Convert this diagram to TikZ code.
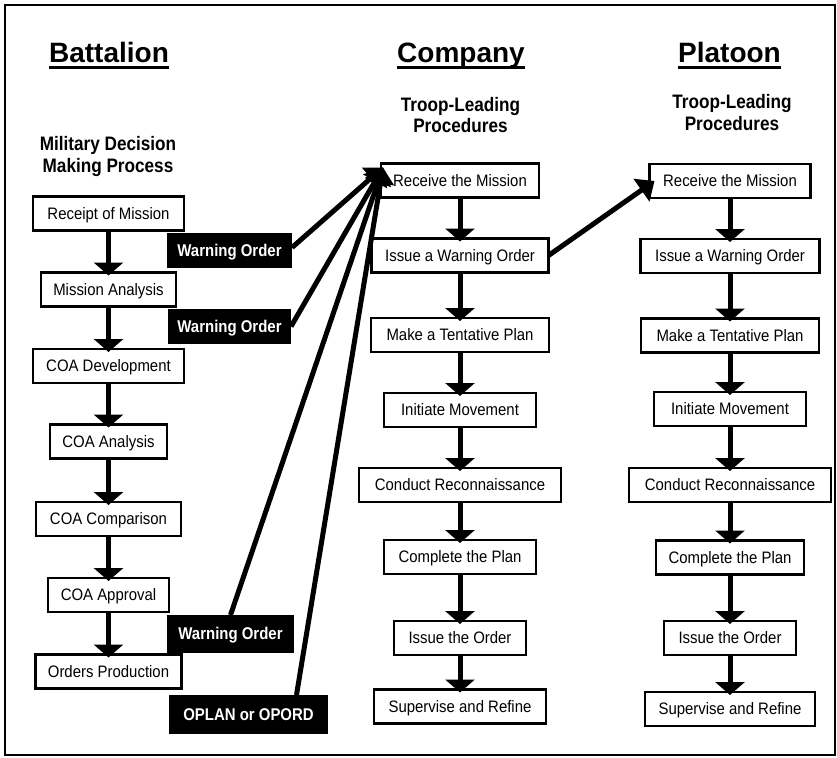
\documentclass[tikz,border=0pt]{standalone}
\usepackage{fontspec}
\setmainfont{Liberation Sans}
\newfontfamily\boxfont{Liberation Sans}[FakeStretch=0.9]
\newfontfamily\subfont{Liberation Sans}[FakeStretch=0.88]
\usetikzlibrary{arrows.meta,calc}
\begin{document}
\begin{tikzpicture}[x=1pt,y=-1pt,
  stepbox/.style={draw,line width=2.9pt,fill=white,inner sep=0pt,outer sep=0pt,
    minimum height=34pt,font=\boxfont\fontsize{16.6}{19}\selectfont,text height=13pt,text depth=1.5pt},
  ordbox/.style={fill=black,text=white,inner sep=0pt,outer sep=0pt,minimum height=35pt,
    font=\subfont\bfseries\fontsize{17}{19}\selectfont,text height=13pt,text depth=1.5pt},
  varrow/.style={line width=5pt,-{Triangle[length=13pt,width=29pt]},shorten >=-3pt},
  darrow/.style={line width=5pt,-{Triangle[length=16pt,width=27pt]}},
  head/.style={font=\bfseries\fontsize{28}{32}\selectfont,inner sep=0pt,anchor=base},
  sub/.style={font=\subfont\bfseries\fontsize{19.5}{22}\selectfont,inner sep=0pt,anchor=base},
  uline/.style={line width=2.2pt},
]
\useasboundingbox (0,0) rectangle (837,757);
\draw[line width=2.5pt] (5,5) rectangle (835,755);

% headings
\node[head] (hb) at (109,63) {Battalion};
\node[head] (hc) at (461,63) {Company};
\node[head] (hp) at (729.5,63) {Platoon};
\foreach \h in {hb,hc,hp}
  \draw[uline] ($(\h.base west)+(0,4.5)$) -- ($(\h.base east)+(0,4.5)$);

\node[sub] (sb1) at (108,150) {Military Decision};
\node[sub] (sb2) at (108,172) {Making Process};
\node[sub] (sc1) at (460.5,111) {Troop-Leading};
\node[sub] (sc2) at (460.5,132) {Procedures};
\node[sub] (sp1) at (732,109) {Troop-Leading};
\node[sub] (sp2) at (732,130) {Procedures};

% battalion
\node[stepbox,minimum width=151pt] (b1) at (108.5,213.5) {Receipt of Mission};
\node[stepbox,minimum width=135pt] (b2) at (108.5,289.5) {Mission Analysis};
\node[stepbox,minimum width=151pt] (b3) at (108.5,366) {COA Development};
\node[stepbox,minimum width=117pt] (b4) at (108.5,441.5) {COA Analysis};
\node[stepbox,minimum width=145pt] (b5) at (108.5,519) {COA Comparison};
\node[stepbox,minimum width=121pt] (b6) at (108.5,595) {COA Approval};
\node[stepbox,minimum width=146pt] (b7) at (108.5,671.5) {Orders Production};

% company
\node[stepbox,minimum width=158pt] (c1) at (460,180.5) {Receive the Mission};
\node[stepbox,minimum width=177pt] (c2) at (460,255.5) {Issue a Warning Order};
\node[stepbox,minimum width=178pt] (c3) at (460,335) {Make a Tentative Plan};
\node[stepbox,minimum width=152pt] (c4) at (460,410) {Initiate Movement};
\node[stepbox,minimum width=202pt] (c5) at (460,485) {Conduct Reconnaissance};
\node[stepbox,minimum width=152pt] (c6) at (460,557) {Complete the Plan};
\node[stepbox,minimum width=132pt] (c7) at (460,638) {Issue the Order};
\node[stepbox,minimum width=172pt] (c8) at (460,706.5) {Supervise and Refine};

% platoon
\node[stepbox,minimum width=161pt] (p1) at (730,181) {Receive the Mission};
\node[stepbox,minimum width=179pt] (p2) at (730,256) {Issue a Warning Order};
\node[stepbox,minimum width=178pt] (p3) at (730,335.5) {Make a Tentative Plan};
\node[stepbox,minimum width=152pt] (p4) at (730,409) {Initiate Movement};
\node[stepbox,minimum width=202pt] (p5) at (730,485) {Conduct Reconnaissance};
\node[stepbox,minimum width=148pt] (p6) at (730,557.5) {Complete the Plan};
\node[stepbox,minimum width=132pt] (p7) at (730,638) {Issue the Order};
\node[stepbox,minimum width=170pt] (p8) at (730,709) {Supervise and Refine};

% order labels
\node[ordbox,minimum width=125pt] (wo1) at (229.5,250.5) {Warning Order};
\node[ordbox,minimum width=123pt] (wo2) at (229.5,326.5) {Warning Order};
\node[ordbox,minimum width=127pt,minimum height=38pt] (wo3) at (230.5,634) {Warning Order};
\node[ordbox,minimum width=159pt,minimum height=39pt] (opl) at (248.5,714.5) {OPLAN or OPORD};

% vertical arrows
\foreach \a/\b in {b1/b2,b2/b3,b3/b4,b4/b5,b5/b6,b6/b7,
                   c1/c2,c2/c3,c3/c4,c4/c5,c5/c6,c6/c7,c7/c8,
                   p1/p2,p2/p3,p3/p4,p4/p5,p5/p6,p6/p7,p7/p8}
  \draw[varrow] (\a.south) -- (\b.north);

% diagonal arrows
\coordinate (ctip) at ($(c1.north west)+(2,4)$);
\draw[darrow] ($(wo1.east)+(0,-3)$) -- (ctip);
\draw[darrow] (wo2.east) -- (ctip);
\draw[darrow] (wo3.north) -- (ctip);
\draw[darrow] ($(opl.north)+(48,0)$) -- (ctip);
\draw[darrow] (c2.east) -- ($(p1.west)+(5,0)$);
\end{tikzpicture}
\end{document}
